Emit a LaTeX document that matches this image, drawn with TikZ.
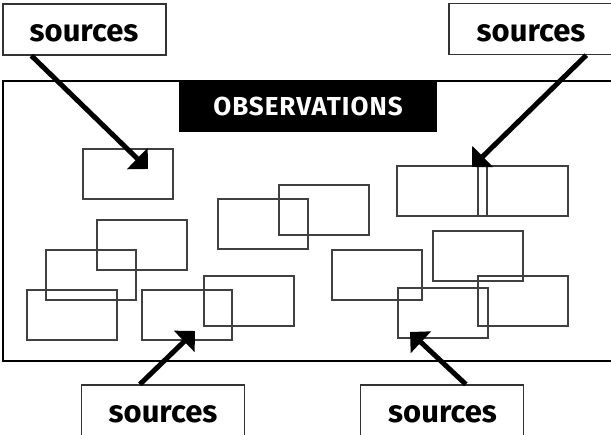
\documentclass[tikz,border=0pt]{standalone}
\usepackage{fontspec}
\setmainfont{Fira Sans}
\usetikzlibrary{arrows.meta}

\tikzset{
  srcbox/.style={draw=black!80, line width=1.3pt, fill=white,
    minimum width=163pt, minimum height=51pt, inner sep=0pt},
  srclabel/.style={anchor=base, inner sep=0pt, font=\fontsize{31}{31}\selectfont\bfseries},
  obs/.style={draw=black!75, line width=1.1pt,
    minimum width=90pt, minimum height=50pt, inner sep=0pt},
  pointer/.style={line width=5pt, -{Triangle[length=15pt,width=29pt]}},
}

\begin{document}
\begin{tikzpicture}[x=1pt, y=-1pt]
  \useasboundingbox (0,0) rectangle (611,435);

  % frame around the observations
  \draw[line width=2.4pt] (640,81) -- (3,81) -- (3,361) -- (640,361);

  % heading
  \node[fill=black, minimum width=258pt, minimum height=51pt, inner sep=0pt]
    (head) at (308,106.5) {};
  \node[anchor=base, inner sep=0pt, text=white,
        font=\fontsize{26}{26}\selectfont\bfseries\addfontfeatures{LetterSpace=4}]
    (headtxt) at (308,116) {OBSERVATIONS};

  % individual observations
  \node[obs] (r1)  at (128,174) {};
  \node[obs] (r2)  at (263,224) {};
  \node[obs] (r3)  at (324,210) {};
  \node[obs] (r4)  at (442,191) {};
  \node[obs] (r5)  at (523,191) {};
  \node[obs] (r6)  at (377,275) {};
  \node[obs] (r7)  at (478,256) {};
  \node[obs] (r8)  at (523,301) {};
  \node[obs] (r9)  at (443,313) {};
  \node[obs] (r10) at (142,245) {};
  \node[obs] (r11) at (91,275) {};
  \node[obs] (r12) at (72,315) {};
  \node[obs] (r13) at (187,315) {};
  \node[obs] (r14) at (249,301) {};

  % source boxes
  \node[srcbox] (s1) at (84.5,29.5) {};
  \node[srclabel] at (84,42) {sources};
  \node[srcbox] (s2) at (530.5,29) {};
  \node[srclabel] at (531,42) {sources};
  \node[srcbox] (s3) at (163,410.5) {};
  \node[srclabel] at (163,423) {sources};
  \node[srcbox] (s4) at (442,410.5) {};
  \node[srclabel] at (442.5,423) {sources};

  % arrow tips
  \coordinate (t1) at (148,169);
  \coordinate (t2) at (472,167);
  \coordinate (t3) at (195,331);
  \coordinate (t4) at (410,332);

  % pointers from sources to observations
  \draw[pointer] ([xshift=29pt]s1.south west) -- (t1);
  \draw[pointer] ([xshift=138pt]s2.south west) -- (t2);
  \draw[pointer] ([xshift=59pt]s3.north west) -- (t3);
  \draw[pointer] ([xshift=106pt]s4.north west) -- (t4);
\end{tikzpicture}
\end{document}
